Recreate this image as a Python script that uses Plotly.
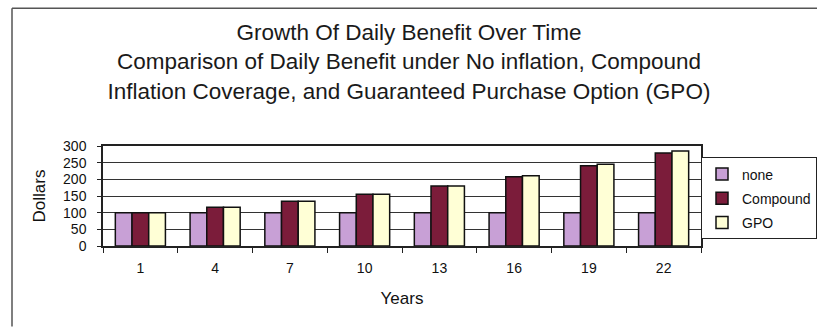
import plotly.graph_objects as go

years = ["1", "4", "7", "10", "13", "16", "19", "22"]
none_vals = [100, 100, 100, 100, 100, 100, 100, 100]
compound_vals = [100, 116, 134, 155, 180, 208, 241, 279]
gpo_vals = [100, 116, 134, 155, 180, 211, 245, 285]
y_ticks = [0, 50, 100, 150, 200, 250, 300]

FONT = "Liberation Sans, Arial, sans-serif"

fig = go.Figure()
series = [
    ("none", none_vals, "#c8a0d6"),
    ("Compound", compound_vals, "#7b1c3a"),
    ("GPO", gpo_vals, "#ffffd6"),
]
for name, vals, col in series:
    fig.add_trace(go.Bar(
        x=years, y=vals, name=name, legendgroup=name,
        marker=dict(color=col, line=dict(color="#111111", width=1.5)),
    ))

W, H = 817, 327
L, R, T, B = 103, 701, 145.5, 246
pw, ph = R - L, B - T

def px2x(px):
    return (px - L) / pw

def py2y(py):
    return (B - py) / ph

fig.update_layout(
    width=W, height=H,
    margin=dict(l=L, r=W - R, t=T, b=H - B, pad=0, autoexpand=False),
    paper_bgcolor="white", plot_bgcolor="white",
    barmode="group", bargap=0.33, bargroupgap=0,
    font=dict(family=FONT, color="#111111"),
    title=dict(
        text="Growth Of Daily Benefit Over Time<br>Comparison of Daily Benefit under No inflation, Compound<br>Inflation Coverage, and Guaranteed Purchase Option (GPO)",
        x=418 / W, xanchor="center", xref="paper",
        y=1 - 40 / H, yanchor="top", yref="container",
        font=dict(size=22.5, family=FONT, color="#1a1a1a"),
    ),
    legend=dict(
        x=px2x(701), y=py2y(157), xanchor="left", yanchor="top",
        bordercolor="#222222", borderwidth=1, bgcolor="white",
        font=dict(size=14, family=FONT, color="#111111"),
        tracegroupgap=3, traceorder="grouped",
        itemwidth=30,
    ),
    xaxis=dict(
        type="category", showline=True, linecolor="#222222", linewidth=1.5,
        mirror=True, ticks="outside", ticklen=5, tickcolor="#222222",
        tickson="boundaries", showgrid=False,
        tickfont=dict(size=14, family=FONT, color="#111111"),
        ticklabelstandoff=8,
        title=dict(text="Years", font=dict(size=17, family=FONT, color="#111111"), standoff=18),
    ),
    yaxis=dict(
        range=[0, 300], tickvals=y_ticks, showline=True, linecolor="#222222",
        linewidth=1.5, mirror=True, ticks="outside", ticklen=4, tickcolor="#222222",
        showgrid=True, gridcolor="#333333", gridwidth=1, zeroline=False,
        tickfont=dict(size=14, family=FONT, color="#111111"),
        ticklabelstandoff=8,
        title=dict(text="Dollars", font=dict(size=17, family=FONT, color="#111111"), standoff=13),
    ),
)

# outer chart frame: top and left edges (the rest lies outside the picture)
fig.add_shape(type="line", xref="paper", yref="paper",
              x0=px2x(12), x1=px2x(817), y0=py2y(7), y1=py2y(7),
              line=dict(color="#555555", width=1.5), layer="below")
fig.add_shape(type="line", xref="paper", yref="paper",
              x0=px2x(12), x1=px2x(12), y0=py2y(7), y1=py2y(327),
              line=dict(color="#555555", width=1.5), layer="below")

fig.write_html(
    "out.html",
    post_script="document.documentElement.style.overflow='hidden';"
                "document.body.style.margin='0';document.body.style.overflow='hidden';",
)
